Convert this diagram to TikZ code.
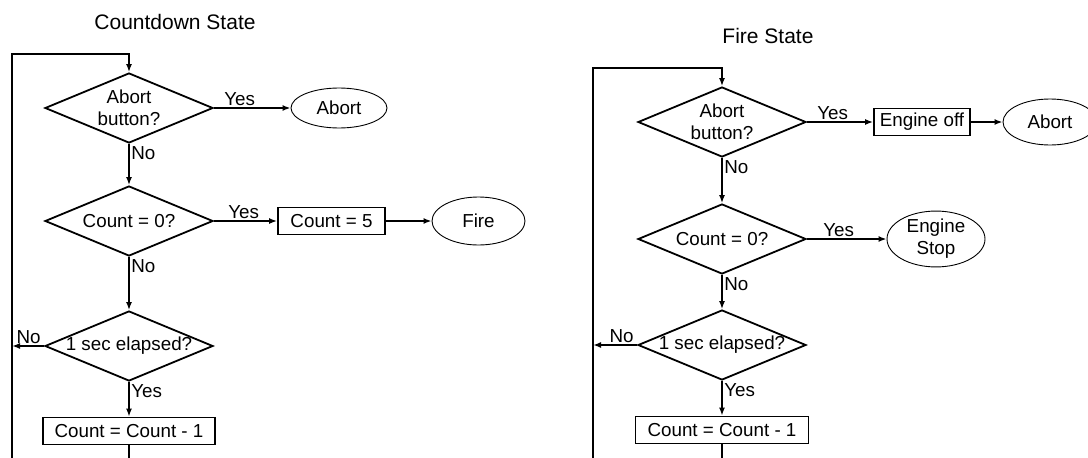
\documentclass[tikz,border=0pt]{standalone}
\usepackage{fontspec}
\setmainfont{Liberation Sans}
\usetikzlibrary{shapes.geometric, arrows.meta}

\tikzset{
  decision/.style={diamond, draw, line width=1.8pt, minimum width=168pt, minimum height=70pt, inner sep=0pt},
  process/.style={rectangle, draw, line width=1.8pt, minimum height=27pt, inner sep=0pt},
  terminal/.style={ellipse, draw, line width=0.9pt, inner sep=0pt},
  flow/.style={line width=1.8pt, -{Latex[length=8pt, width=6pt]}},
  link/.style={line width=1.8pt},
  answer/.style={inner sep=1.5pt},
  heading/.style={font=\fontsize{21}{25}\selectfont},
}

\begin{document}
\begin{tikzpicture}[x=1pt, y=-1pt, font=\fontsize{18.8}{22}\selectfont]
      \useasboundingbox (0,0) rectangle (1088,458);
      % Titles
      \node[heading] (cdtitle) at (175,22) {Countdown State};
      \node[heading] (fstitle) at (768,36) {Fire State};

      % Countdown state
      \node[decision, label={[align=center]center:Abort\\button?}] (cdabort) at (129,108) {};
      \node[terminal, minimum width=96pt, minimum height=40pt] (cdstop) at (339,108) {Abort};
      \node[decision, label=center:{Count = 0?}] (cdzero) at (129,221) {};
      \node[process, minimum width=107pt] (cdreset) at (331.5,221) {Count = 5};
      \node[terminal, minimum width=93pt, minimum height=48pt] (cdfire) at (478.5,221) {Fire};
      \node[decision, label=center:{1 sec elapsed?}] (cdtick) at (129,346) {};
      \node[process, minimum width=172pt] (cddec) at (129,431) {Count = Count - 1};
      \coordinate (cdbot) at (129,458);
      \coordinate (cdleft) at (12,458);
      \coordinate (cdtop) at (12,54);

      \draw[flow] (cdabort) -- node[answer, anchor=south west, pos=0, xshift=8pt] {Yes} (cdstop);
      \draw[flow] (cdabort) -- node[answer, anchor=north west, pos=0] {No} (cdzero);
      \draw[flow] (cdzero) -- node[answer, anchor=south west, pos=0, xshift=12pt] {Yes} (cdreset);
      \draw[flow] (cdreset) -- (cdfire);
      \draw[flow] (cdzero) -- node[answer, anchor=north west, pos=0] {No} (cdtick);
      \draw[flow] (cdtick) -- node[answer, anchor=north west, pos=0] {Yes} (cddec);
      \draw[flow] (cdtick.west) -- node[answer, anchor=south east, pos=0, xshift=-1pt] {No} (cdtick.west -| cdtop);
      % loop back to the top
      \draw[link] (cddec) -- (cdbot);
      \draw[flow] (cdleft) -- (cdtop) -| (cdabort.north);

      % Fire state
      \node[decision, label={[align=center]center:Abort\\button?}] (fsabort) at (722,122) {};
      \node[process, minimum width=96pt] (fsoff) at (922,122) {Engine off};
      \node[terminal, minimum width=94pt, minimum height=46pt] (fsstop) at (1050,122) {Abort};
      \node[decision, label=center:{Count = 0?}] (fszero) at (722,239) {};
      \node[terminal, minimum width=98pt, minimum height=48pt, align=center] (fsengine) at (936,239) {Engine\\Stop};
      \node[decision, label=center:{1 sec elapsed?}] (fstick) at (722,345) {};
      \node[process, minimum width=173pt] (fsdec) at (722,430) {Count = Count - 1};
      \coordinate (fsbot) at (722,458);
      \coordinate (fsleft) at (593,458);
      \coordinate (fstop) at (593,68);

      \draw[flow] (fsabort) -- node[answer, anchor=south west, pos=0, xshift=8pt] {Yes} (fsoff);
      \draw[flow] (fsoff) -- (fsstop);
      \draw[flow] (fsabort) -- node[answer, anchor=north west, pos=0] {No} (fszero);
      \draw[flow] (fszero) -- node[answer, anchor=south west, pos=0, xshift=14pt] {Yes} (fsengine);
      \draw[flow] (fszero) -- node[answer, anchor=north west, pos=0] {No} (fstick);
      \draw[flow] (fstick) -- node[answer, anchor=north west, pos=0] {Yes} (fsdec);
      \draw[flow] (fstick.west) -- node[answer, anchor=south east, pos=0, xshift=-1pt] {No} (fstick.west -| fstop);
      % loop back to the top
      \draw[link] (fsdec) -- (fsbot);
      \draw[flow] (fsleft) -- (fstop) -| (fsabort.north);
\end{tikzpicture}
\end{document}
